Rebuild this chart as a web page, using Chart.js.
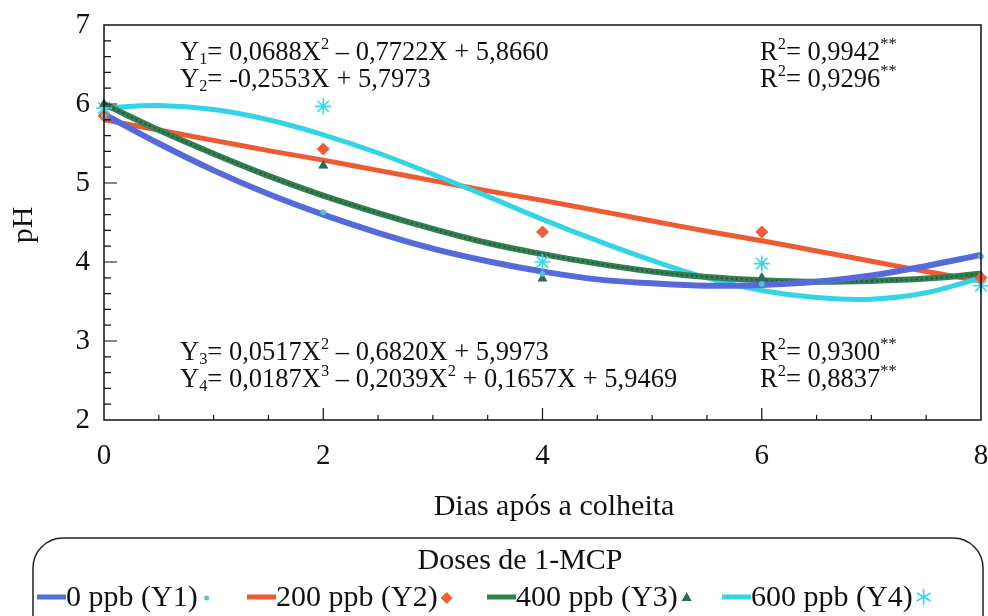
<!DOCTYPE html>
<html>
<head>
    <meta charset="utf-8" />
    <script src="https://cdn.jsdelivr.net/npm/chart.js"></script>
    <style>
        body { margin: 0; background: #fff; }
        canvas { display: block; }
    </style>
</head>
<body>
    <canvas id="phChart" width="988" height="616"></canvas>

    <script>
        // Dias de avaliação e pH observado por dose de 1-MCP
        const days = [0, 2, 4, 6, 8];
        const obs0 = [5.85, 4.63, 3.85, 3.72, 4.07];
        const obs200 = [5.85, 5.43, 4.38, 4.38, 3.80];
        const obs400 = [6.00, 5.22, 3.79, 3.80, 3.82];
        const obs600 = [5.95, 5.97, 4.00, 3.98, 3.70];

        // Curvas ajustadas (Y1..Y4), lidas a cada meio dia
        const fitDays = [0, 0.5, 1, 1.5, 2, 2.5, 3, 3.5, 4, 4.5, 5, 5.5, 6, 6.5, 7, 7.5, 8];
        const fitY1 = [5.87, 5.50, 5.16, 4.86, 4.60, 4.37, 4.17, 4.01, 3.88, 3.78, 3.73, 3.70, 3.71, 3.75, 3.83, 3.95, 4.09];
        const fitY2 = [5.80, 5.67, 5.54, 5.41, 5.29, 5.16, 5.03, 4.90, 4.78, 4.65, 4.52, 4.39, 4.27, 4.14, 4.01, 3.88, 3.76];
        const fitY3 = [6.00, 5.67, 5.37, 5.09, 4.84, 4.62, 4.42, 4.24, 4.10, 3.98, 3.88, 3.81, 3.77, 3.75, 3.76, 3.79, 3.85];
        const fitY4 = [5.95, 5.98, 5.93, 5.80, 5.61, 5.38, 5.11, 4.83, 4.54, 4.27, 4.02, 3.80, 3.64, 3.55, 3.53, 3.61, 3.80];

        const xTicks = [0, 2, 4, 6, 8];
        const yTicks = [2, 3, 4, 5, 6, 7];

        const serif = "'Liberation Serif', 'Times New Roman', serif";

        const pts = (xs, ys) => xs.map((x, i) => ({ x: x, y: ys[i] }));

        function fitLine(ys, color, width, order, dash) {
            return {
                type: 'line',
                data: pts(fitDays, ys),
                borderColor: color,
                borderWidth: width,
                borderDash: dash || [],
                pointRadius: 0,
                tension: 0.4,
                fill: false,
                order: order
            };
        }

        function obsPoints(ys, style, color, radius, order) {
            return {
                type: 'scatter',
                data: pts(days, ys),
                showLine: false,
                pointStyle: style,
                pointRadius: radius,
                backgroundColor: color,
                borderColor: color,
                borderWidth: style === 'star' ? 1.6 : 1,
                clip: false,
                order: order
            };
        }

        // equações e R² escritos dentro do gráfico
        const equations = [
            { x: 180, y: 53, parts: [['Y'], ['1', 'sub'], ['= 0,0688X'], ['2', 'sup'], [' \u2013 0,7722X + 5,8660']] },
            { x: 180, y: 80, parts: [['Y'], ['2', 'sub'], ['= -0,2553X + 5,7973']] },
            { x: 180, y: 353, parts: [['Y'], ['3', 'sub'], ['= 0,0517X'], ['2', 'sup'], [' \u2013 0,6820X + 5,9973']] },
            { x: 180, y: 380, parts: [['Y'], ['4', 'sub'], ['= 0,0187X'], ['3', 'sup'], [' \u2013 0,2039X'], ['2', 'sup'], [' + 0,1657X + 5,9469']] },
            { x: 760, y: 53, parts: [['R'], ['2', 'sup'], ['= 0,9942'], ['**', 'sup']] },
            { x: 760, y: 80, parts: [['R'], ['2', 'sup'], ['= 0,9296'], ['**', 'sup']] },
            { x: 760, y: 353, parts: [['R'], ['2', 'sup'], ['= 0,9300'], ['**', 'sup']] },
            { x: 760, y: 380, parts: [['R'], ['2', 'sup'], ['= 0,8837'], ['**', 'sup']] }
        ];

        function drawRich(ctx, item, size) {
            let x = item.x;
            ctx.textBaseline = 'middle';
            ctx.textAlign = 'left';
            item.parts.forEach(p => {
                const mode = p[1];
                const fs = mode ? size * 0.62 : size;
                const dy = mode === 'sup' ? -size * 0.32 : mode === 'sub' ? size * 0.25 : 0;
                ctx.font = fs + 'px ' + serif;
                ctx.fillText(p[0], x, item.y + dy);
                x += ctx.measureText(p[0]).width;
            });
        }

        function drawAsterisk(ctx, cx, cy, r, color) {
            ctx.save();
            ctx.strokeStyle = color;
            ctx.lineWidth = 1.6;
            ctx.beginPath();
            for (let i = 0; i < 3; i++) {
                const a = Math.PI / 2 + i * Math.PI / 3;
                ctx.moveTo(cx + r * Math.cos(a), cy - r * Math.sin(a));
                ctx.lineTo(cx - r * Math.cos(a), cy + r * Math.sin(a));
            }
            ctx.stroke();
            ctx.restore();
        }

        const decorPlugin = {
            id: 'decor',
            afterDatasetsDraw(chart) {
                const ctx = chart.ctx;
                const a = chart.chartArea;
                const sx = chart.scales.x, sy = chart.scales.y;
                ctx.save();

                // moldura
                ctx.strokeStyle = '#111';
                ctx.lineWidth = 1.5;
                ctx.strokeRect(a.left, a.top, a.right - a.left, a.bottom - a.top);

                // marcas internas dos eixos
                ctx.lineWidth = 1.2;
                ctx.beginPath();
                for (let v = 0.5; v < 8; v += 0.5) {
                    const px = sx.getPixelForValue(v);
                    const len = (v % 2 === 0) ? 12 : 5;
                    ctx.moveTo(px, a.bottom);
                    ctx.lineTo(px, a.bottom - len);
                }
                for (let v = 2.2; v < 6.95; v += 0.2) {
                    const py = sy.getPixelForValue(v);
                    const major = Math.abs(v - Math.round(v)) < 0.01;
                    ctx.moveTo(a.left, py);
                    ctx.lineTo(a.left + (major ? 13 : 7), py);
                }
                ctx.stroke();

                // equações
                ctx.fillStyle = '#111';
                equations.forEach(eq => drawRich(ctx, eq, 26.5));

                // títulos dos eixos
                ctx.font = '30px ' + serif;
                ctx.textAlign = 'center';
                ctx.textBaseline = 'middle';
                ctx.fillText('Dias após a colheita', 554, 507);
                ctx.save();
                ctx.translate(24, 225);
                ctx.rotate(-Math.PI / 2);
                ctx.fillText('pH', 0, 0);
                ctx.restore();

                // legenda
                ctx.strokeStyle = '#222';
                ctx.lineWidth = 1.5;
                ctx.beginPath();
                ctx.roundRect(33, 538, 950, 110, 30);
                ctx.stroke();
                ctx.font = '30px ' + serif;
                ctx.fillText('Doses de 1-MCP', 520, 561);

                const items = [
                    { x0: 37, label: '0 ppb (Y1)', color: '#4f6fdc', marker: 'dot', mc: '#5bbfd8' },
                    { x0: 247, label: '200 ppb (Y2)', color: '#ee5a32', marker: 'diamond', mc: '#e8613a' },
                    { x0: 487, label: '400 ppb (Y3)', color: '#2f8152', marker: 'triangle', mc: '#2b6e5e' },
                    { x0: 722, label: '600 ppb (Y4)', color: '#35d4e4', marker: 'star', mc: '#38d6e6' }
                ];
                ctx.font = '30px ' + serif;
                ctx.textAlign = 'left';
                items.forEach(it => {
                    ctx.strokeStyle = it.color;
                    ctx.lineWidth = 5;
                    ctx.beginPath();
                    ctx.moveTo(it.x0, 597);
                    ctx.lineTo(it.x0 + 29, 597);
                    ctx.stroke();
                    ctx.fillStyle = '#111';
                    ctx.fillText(it.label, it.x0 + 29, 598);
                    const mx = it.x0 + 29 + ctx.measureText(it.label).width + 9;
                    ctx.fillStyle = it.mc;
                    if (it.marker === 'dot') {
                        ctx.beginPath();
                        ctx.arc(mx, 598, 2.5, 0, Math.PI * 2);
                        ctx.fill();
                    } else if (it.marker === 'diamond') {
                        ctx.beginPath();
                        ctx.moveTo(mx, 592); ctx.lineTo(mx + 6, 598);
                        ctx.lineTo(mx, 604); ctx.lineTo(mx - 6, 598);
                        ctx.closePath();
                        ctx.fill();
                    } else if (it.marker === 'triangle') {
                        ctx.beginPath();
                        ctx.moveTo(mx, 592); ctx.lineTo(mx + 5, 601);
                        ctx.lineTo(mx - 5, 601);
                        ctx.closePath();
                        ctx.fill();
                    } else {
                        drawAsterisk(ctx, mx + 2, 597, 8, it.mc);
                    }
                });
                ctx.restore();
            }
        };

        new Chart(document.getElementById('phChart'), {
            data: {
                datasets: [
                    fitLine(fitY1, '#7a52cc', 2, 1, [2, 3]),
                    fitLine(fitY1, '#4f6fdc', 6, 2),
                    fitLine(fitY3, '#3b4a42', 2, 3, [2, 3]),
                    fitLine(fitY3, '#2f8152', 6, 4),
                    fitLine(fitY4, '#35d4e4', 5, 5),
                    fitLine(fitY2, '#ee5a32', 5, 6),
                    obsPoints(obs0, 'circle', '#5bbfd8', 2.5, 0),
                    obsPoints(obs200, 'rectRot', '#e8613a', 6, 0),
                    obsPoints(obs400, 'triangle', '#2b6e5e', 5, 0),
                    obsPoints(obs600, 'star', '#38d6e6', 8, 0)
                ]
            },
            options: {
                responsive: false,
                animation: false,
                devicePixelRatio: 1,
                layout: { autoPadding: false, padding: { top: 25, right: 7, left: 0, bottom: 0 } },
                plugins: {
                    legend: { display: false },
                    tooltip: { enabled: false }
                },
                scales: {
                    x: {
                        type: 'linear',
                        min: 0,
                        max: 8,
                        afterFit: s => { s.height = 196; s.paddingLeft = 0; s.paddingRight = 0; },
                        afterBuildTicks: s => { s.ticks = xTicks.map(v => ({ value: v })); },
                        ticks: { color: '#111', padding: 19, font: { family: serif, size: 29 } },
                        grid: { display: false, drawTicks: false },
                        border: { display: false }
                    },
                    y: {
                        type: 'linear',
                        min: 2,
                        max: 7,
                        afterFit: s => { s.width = 104; s.paddingTop = 0; s.paddingBottom = 0; },
                        afterBuildTicks: s => { s.ticks = yTicks.map(v => ({ value: v })); },
                        ticks: { color: '#111', padding: 14, font: { family: serif, size: 29 } },
                        grid: { display: false, drawTicks: false },
                        border: { display: false }
                    }
                }
            },
            plugins: [decorPlugin]
        });
    </script>
</body>
</html>
